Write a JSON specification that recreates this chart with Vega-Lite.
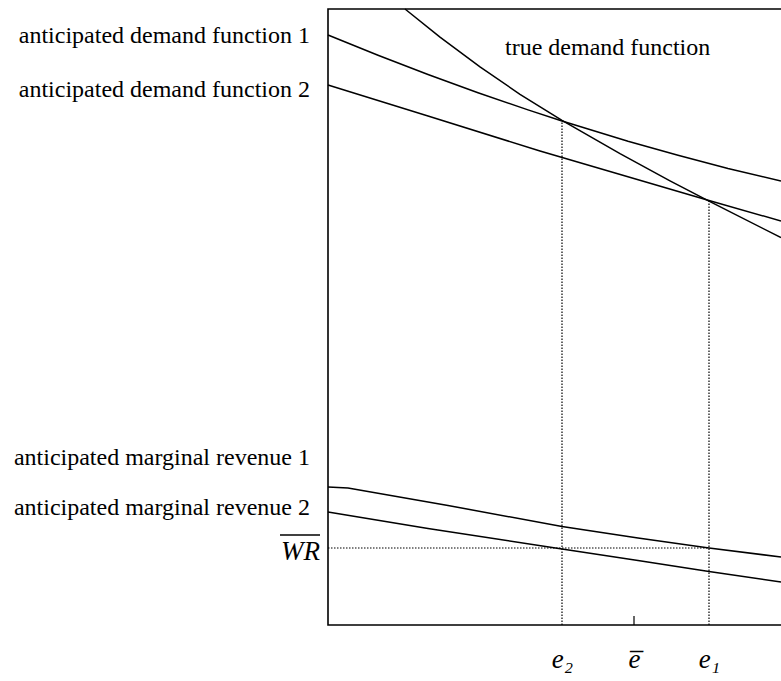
{
  "$schema": "https://vega.github.io/schema/vega-lite/v6.json",
  "width": 455,
  "height": 616,
  "autosize": {"type": "none"},
  "padding": {"left": 328, "top": 9, "right": 0, "bottom": 56},
  "background": "white",
  "config": {
    "font": "Liberation Serif",
    "view": {"stroke": "black", "strokeWidth": 1.6}
  },
  "datasets": {
    "curves": [
      {"series": "anticipated demand 1", "q": 0, "p": 590},
      {"series": "anticipated demand 1", "q": 50, "p": 569.7},
      {"series": "anticipated demand 1", "q": 100, "p": 550.5},
      {"series": "anticipated demand 1", "q": 150, "p": 532.2},
      {"series": "anticipated demand 1", "q": 200, "p": 515.1},
      {"series": "anticipated demand 1", "q": 234, "p": 504},
      {"series": "anticipated demand 1", "q": 300, "p": 483.8},
      {"series": "anticipated demand 1", "q": 350, "p": 469.7},
      {"series": "anticipated demand 1", "q": 400, "p": 456.6},
      {"series": "anticipated demand 1", "q": 453, "p": 444},
      {"series": "anticipated demand 2", "q": 0, "p": 540},
      {"series": "anticipated demand 2", "q": 100, "p": 509},
      {"series": "anticipated demand 2", "q": 212, "p": 474},
      {"series": "anticipated demand 2", "q": 381, "p": 424.5},
      {"series": "anticipated demand 2", "q": 453, "p": 404},
      {"series": "true demand", "q": 77, "p": 616},
      {"series": "true demand", "q": 112, "p": 587.9},
      {"series": "true demand", "q": 152, "p": 558.1},
      {"series": "true demand", "q": 192, "p": 530.7},
      {"series": "true demand", "q": 234, "p": 504.6},
      {"series": "true demand", "q": 292, "p": 471.3},
      {"series": "true demand", "q": 342, "p": 444.1},
      {"series": "true demand", "q": 381, "p": 423.8},
      {"series": "true demand", "q": 453, "p": 387.4},
      {"series": "anticipated MR 1", "q": 0, "p": 138},
      {"series": "anticipated MR 1", "q": 20, "p": 137},
      {"series": "anticipated MR 1", "q": 120, "p": 119.5},
      {"series": "anticipated MR 1", "q": 234, "p": 98.5},
      {"series": "anticipated MR 1", "q": 310, "p": 87},
      {"series": "anticipated MR 1", "q": 381, "p": 77},
      {"series": "anticipated MR 1", "q": 453, "p": 68},
      {"series": "anticipated MR 2", "q": 0, "p": 113},
      {"series": "anticipated MR 2", "q": 100, "p": 96.5},
      {"series": "anticipated MR 2", "q": 234, "p": 76},
      {"series": "anticipated MR 2", "q": 310, "p": 64.5},
      {"series": "anticipated MR 2", "q": 381, "p": 53.5},
      {"series": "anticipated MR 2", "q": 453, "p": 43}
    ],
    "vguides": [
      {"q": 234, "p": 0, "p2": 504.6},
      {"q": 381, "p": 0, "p2": 424}
    ],
    "hguides": [
      {"p": 77, "q": 0, "q2": 381}
    ],
    "ticks": [
      {"q": 306, "p": 0, "p2": 9}
    ],
    "overlines": [
      {"p": 90, "q": -48, "q2": -8}
    ],
    "leftLabels": [
      {"label": "anticipated demand function 1", "q": -18, "p": 582},
      {"label": "anticipated demand function 2", "q": -18, "p": 528},
      {"label": "anticipated marginal revenue 1", "q": -18, "p": 160},
      {"label": "anticipated marginal revenue 2", "q": -18, "p": 110}
    ],
    "wrLabel": [
      {"label": "WR", "q": -8, "p": 65}
    ],
    "innerLabels": [
      {"label": "true demand function", "q": 177, "p": 570}
    ]
  },
  "layer": [
    {
      "data": {"name": "curves"},
      "mark": {"type": "line", "color": "black", "strokeWidth": 1.5},
      "encoding": {
        "x": {"field": "q", "type": "quantitative", "scale": {"domain": [0, 455], "nice": false, "zero": false},
              "axis": {"values": [234, 306, 381], "labelExpr": "datum.value == 234 ? 'e₂' : (datum.value == 306 ? 'e̅' : 'e₁')", "ticks": false, "domain": false, "grid": false, "title": null, "labelFontStyle": "italic", "labelFontSize": 27, "labelColor": "black", "labelBaseline": "alphabetic", "labelPadding": 42, "labelDx": 4, "labelFont": "Liberation Serif"}},
        "y": {"field": "p", "type": "quantitative", "scale": {"domain": [0, 616], "nice": false, "zero": false}, "axis": null},
        "detail": {"field": "series"}
      }
    },
    {
      "data": {"name": "vguides"},
      "mark": {"type": "rule", "color": "black", "strokeWidth": 1.2, "strokeDash": [1.5, 1.5]},
      "encoding": {
        "x": {"field": "q", "type": "quantitative"},
        "y": {"field": "p", "type": "quantitative"},
        "y2": {"field": "p2"}
      }
    },
    {
      "data": {"name": "hguides"},
      "mark": {"type": "rule", "color": "black", "strokeWidth": 1.2, "strokeDash": [1.5, 1.5]},
      "encoding": {
        "y": {"field": "p", "type": "quantitative"},
        "x": {"field": "q", "type": "quantitative"},
        "x2": {"field": "q2"}
      }
    },
    {
      "data": {"name": "ticks"},
      "mark": {"type": "rule", "color": "black", "strokeWidth": 1.2},
      "encoding": {
        "x": {"field": "q", "type": "quantitative"},
        "y": {"field": "p", "type": "quantitative"},
        "y2": {"field": "p2"}
      }
    },
    {
      "data": {"name": "overlines"},
      "mark": {"type": "rule", "color": "black", "strokeWidth": 1.3},
      "encoding": {
        "y": {"field": "p", "type": "quantitative"},
        "x": {"field": "q", "type": "quantitative"},
        "x2": {"field": "q2"}
      }
    },
    {
      "data": {"name": "leftLabels"},
      "mark": {"type": "text", "align": "right", "baseline": "alphabetic", "fontSize": 24, "font": "Liberation Serif", "color": "black"},
      "encoding": {
        "x": {"field": "q", "type": "quantitative"},
        "y": {"field": "p", "type": "quantitative"},
        "text": {"field": "label"}
      }
    },
    {
      "data": {"name": "wrLabel"},
      "mark": {"type": "text", "align": "right", "baseline": "alphabetic", "fontSize": 27, "fontStyle": "italic", "font": "Liberation Serif", "color": "black"},
      "encoding": {
        "x": {"field": "q", "type": "quantitative"},
        "y": {"field": "p", "type": "quantitative"},
        "text": {"field": "label"}
      }
    },
    {
      "data": {"name": "innerLabels"},
      "mark": {"type": "text", "align": "left", "baseline": "alphabetic", "fontSize": 24, "font": "Liberation Serif", "color": "black"},
      "encoding": {
        "x": {"field": "q", "type": "quantitative"},
        "y": {"field": "p", "type": "quantitative"},
        "text": {"field": "label"}
      }
    }
  ]
}
